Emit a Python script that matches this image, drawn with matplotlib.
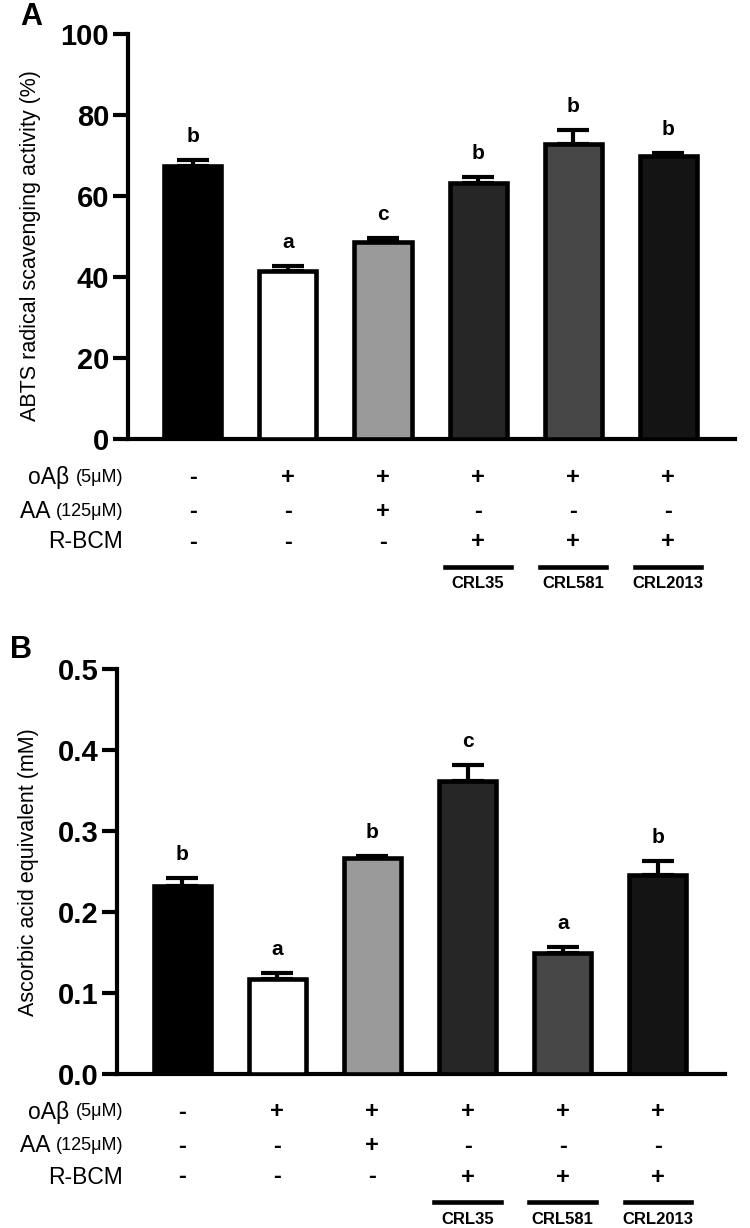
import matplotlib
matplotlib.use('Agg')
import matplotlib.pyplot as plt
from matplotlib.transforms import blended_transform_factory
from matplotlib.lines import Line2D

plt.rcParams['font.family'] = ['Liberation Sans', 'DejaVu Sans']

# ---------------- data ----------------
groups = ['Control', 'oAβ', 'oAβ+AA', 'oAβ+CRL35', 'oAβ+CRL581', 'oAβ+CRL2013']
bar_colors = ['#000000', '#ffffff', '#9a9a9a', '#262626', '#474747', '#141414']

abts_mean = [67.5, 41.5, 48.6, 63.2, 72.8, 70.0]
abts_sem = [1.3, 1.2, 1.0, 1.5, 3.5, 0.5]
abts_letters = ['b', 'a', 'c', 'b', 'b', 'b']
abts_ticks = [0, 20, 40, 60, 80, 100]

aae_mean = [0.232, 0.117, 0.267, 0.362, 0.150, 0.246]
aae_sem = [0.010, 0.008, 0.002, 0.019, 0.007, 0.017]
aae_letters = ['b', 'a', 'b', 'c', 'a', 'b']
aae_ticks = [0.0, 0.1, 0.2, 0.3, 0.4, 0.5]
aae_ticklabels = ['0.0', '0.1', '0.2', '0.3', '0.4', '0.5']

row_names = ['oAβ', 'AA', 'R-BCM']
row_units = ['(5μM)', '(125μM)', '']
oab_signs = ['-', '+', '+', '+', '+', '+']
aa_signs = ['-', '-', '+', '-', '-', '-']
rbcm_signs = ['-', '-', '-', '+', '+', '+']
strain_labels = ['CRL35', 'CRL581', 'CRL2013']
strain_index = [3, 4, 5]

W, H = 750, 1228
fig = plt.figure(figsize=(W / 100, H / 100), dpi=100)


def fx(px):
    return px / W


def fy(py):
    return 1 - py / H


def panel(left, right, top, bottom, means, sems, letters, ticks, ticklabels,
          ymax, ylabel, ylabel_pos, letter, letter_pos):
    ax = fig.add_axes([fx(left), fy(bottom), fx(right) - fx(left), fy(top) - fy(bottom)])
    x = list(range(len(means)))
    ax.bar(x, means, width=0.6, color=bar_colors, edgecolor='black', linewidth=3.3, zorder=3)
    ax.errorbar(x, means, yerr=[[0] * len(sems), sems], fmt='none', ecolor='black',
                elinewidth=3, capsize=11.5, capthick=3, zorder=2)
    for xi, m, s, l in zip(x, means, sems, letters):
        ax.annotate(l, xy=(xi, m + s), xytext=(0, 17), textcoords='offset points',
                    ha='center', va='center', fontsize=15, fontweight='bold')
    ax.set_xlim(-0.684, 5.705)
    ax.set_ylim(0, ymax)
    ax.set_yticks(ticks)
    ax.set_yticklabels(ticklabels, fontsize=21, fontweight='bold')
    ax.set_xticks([])
    for sp in ['top', 'right']:
        ax.spines[sp].set_visible(False)
    for sp in ['left', 'bottom']:
        ax.spines[sp].set_linewidth(3)
    ax.tick_params(axis='y', direction='out', length=10.5, width=3, pad=3)
    fig.text(fx(ylabel_pos[0]), fy(ylabel_pos[1]), ylabel, rotation=90,
             ha='center', va='center', fontsize=15.5)
    fig.text(fx(letter_pos[0]), fy(letter_pos[1]), letter, ha='left', va='center',
             fontsize=22, fontweight='bold')

    # treatment table
    tr = blended_transform_factory(ax.transData, fig.transFigure)
    rows_y = [bottom + 38, bottom + 72, bottom + 103]
    for signs, ry in zip([oab_signs, aa_signs, rbcm_signs], rows_y):
        for xi, s in zip(x, signs):
            ax.text(xi, fy(ry), s, transform=tr, ha='center', va='center',
                    fontsize=17, fontweight='bold')
    for name, unit, ry in zip(row_names, row_units, rows_y):
        if unit:
            t = fig.text(fx(123), fy(ry), unit, ha='right', va='center', fontsize=13)
            ax.annotate(name + ' ', xy=(0, 0.5), xycoords=t, ha='right', va='center',
                        fontsize=16.5, annotation_clip=False)
        else:
            fig.text(fx(123), fy(ry), name, ha='right', va='center', fontsize=16.5)
    for si, lab in zip(strain_index, strain_labels):
        fig.add_artist(Line2D([si - 0.35, si + 0.35], [fy(bottom + 128)] * 2,
                              transform=tr, color='black', linewidth=3.3))
        ax.text(si, fy(bottom + 145), lab, transform=tr, ha='center', va='center',
                fontsize=12, fontweight='bold')
    return ax


panel(128, 735, 34, 439, abts_mean, abts_sem, abts_letters, abts_ticks,
      [str(t) for t in abts_ticks], 100,
      'ABTS radical scavenging activity (%)', (31, 246), 'A', (20, 17))
panel(117, 725, 669, 1074, aae_mean, aae_sem, aae_letters, aae_ticks,
      aae_ticklabels, 0.5,
      'Ascorbic acid equivalent (mM)', (29, 872), 'B', (10, 650))

fig.savefig('out.png', dpi=100)
